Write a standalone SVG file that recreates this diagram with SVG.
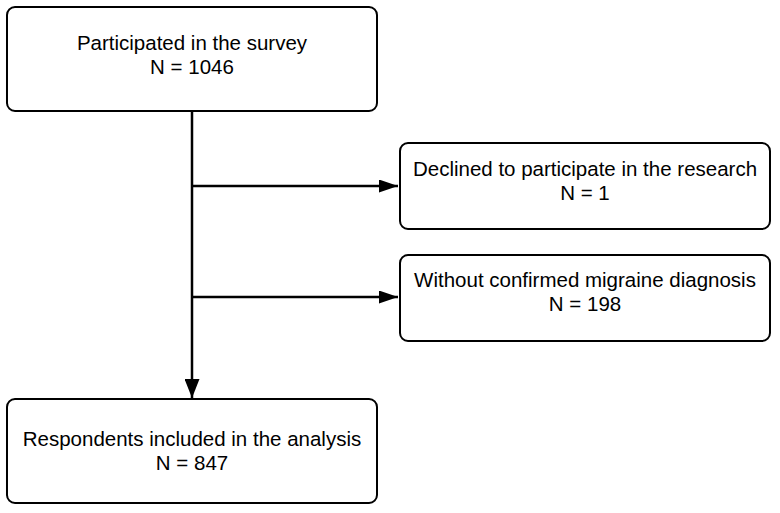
<svg xmlns="http://www.w3.org/2000/svg" width="780" height="513" viewBox="0 0 780 513">
<defs>
<style>
.box{fill:#fff;stroke:#000;stroke-width:2}
.t{font-family:"Liberation Sans",Arial,sans-serif;font-size:20.5px;fill:#000;text-anchor:middle}
.c{stroke:#000;stroke-width:2.5;fill:none}
</style>
<marker id="arrowH" markerWidth="19" markerHeight="13" viewBox="0 0 19 13" refX="19" refY="6.5" orient="auto" markerUnits="userSpaceOnUse">
<path d="M0,0 L19,6.5 L0,13 z" fill="#000"/>
</marker>
<marker id="arrowV" markerWidth="19" markerHeight="15" viewBox="0 0 19 15" refX="19" refY="7.5" orient="auto" markerUnits="userSpaceOnUse">
<path d="M0,0 L19,7.5 L0,15 z" fill="#000"/>
</marker>
</defs>
<rect width="780" height="513" fill="#fff"/>
<g id="connectors">
<path class="c" d="M192,111 V398" marker-end="url(#arrowV)"/>
<path class="c" d="M192,186 H398" marker-end="url(#arrowH)"/>
<path class="c" d="M192,297 H398" marker-end="url(#arrowH)"/>
</g>
<g id="node-participated">
<rect class="box" x="7" y="7" width="370" height="104" rx="8"/>
<text class="t" x="192" y="50">Participated in the survey</text>
<text class="t" x="192" y="74">N = 1046</text>
</g>
<g id="node-declined">
<rect class="box" x="400" y="143" width="370" height="86" rx="8"/>
<text class="t" x="585" y="176">Declined to participate in the research</text>
<text class="t" x="585" y="200">N = 1</text>
</g>
<g id="node-without">
<rect class="box" x="400" y="255" width="370" height="86" rx="8"/>
<text class="t" x="585" y="287">Without confirmed migraine diagnosis</text>
<text class="t" x="585" y="311">N = 198</text>
</g>
<g id="node-respondents">
<rect class="box" x="7" y="399" width="370" height="104" rx="8"/>
<text class="t" x="192" y="446">Respondents included in the analysis</text>
<text class="t" x="192" y="470">N = 847</text>
</g>
</svg>
